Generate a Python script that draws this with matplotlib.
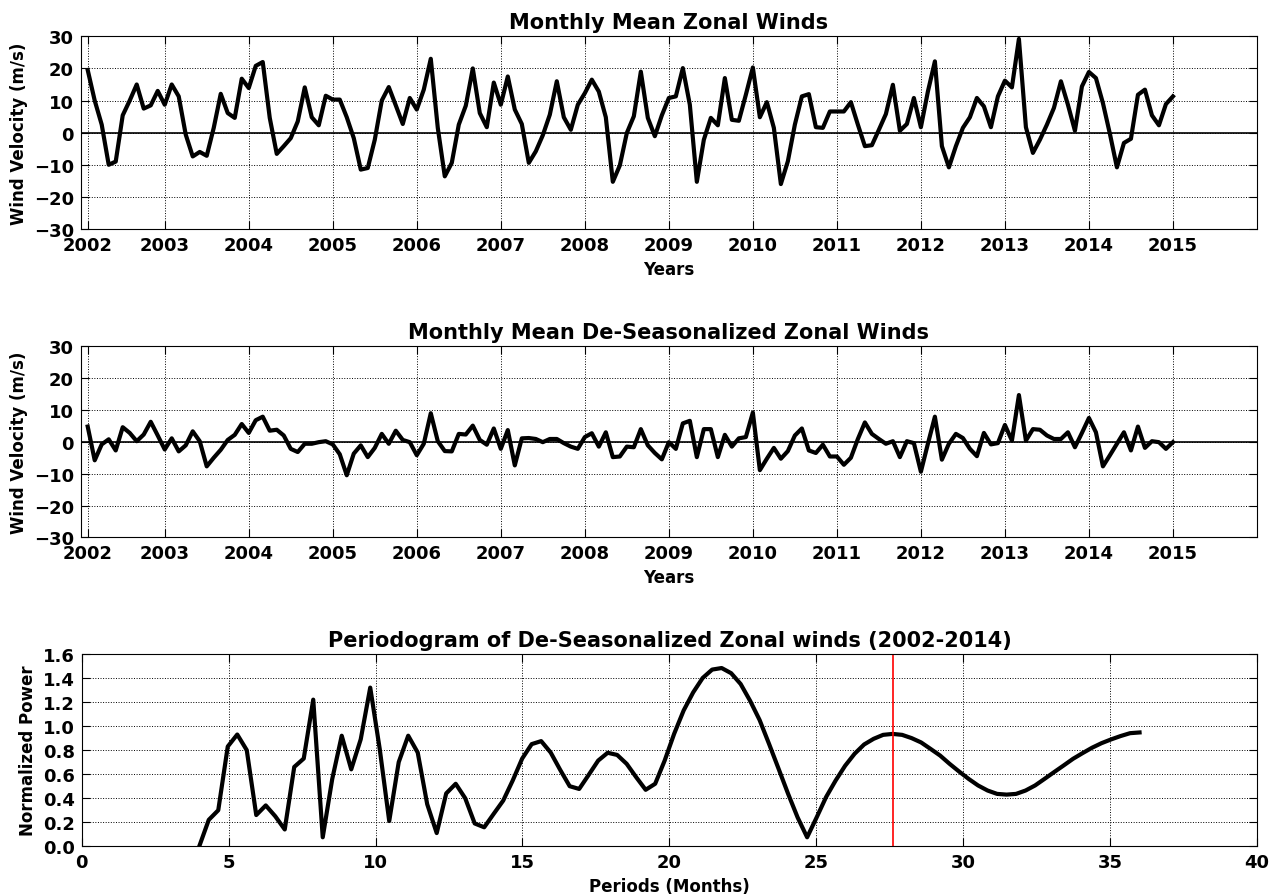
import numpy as np
import matplotlib
matplotlib.use("Agg")
import matplotlib.pyplot as plt

# Monthly mean zonal wind (m/s), Jan 2002 - Dec 2014
zonal_wind = [
    19.5, 10.0, 2.5, -10.0, -9.0, 5.4, 10.0, 15.0, 7.5, 8.5, 13.0, 8.7,
    15.0, 11.3, -0.6, -7.4, -6.0, -7.2, 1.5, 12.1, 6.1, 4.6, 16.8, 13.9,
    20.8, 22.0, 4.6, -6.6, -4.2, -1.7, 3.5, 14.1, 4.8, 2.3, 11.5, 10.3,
    10.3, 4.8, -1.7, -11.5, -11.0, -2.2, 10.0, 14.2, 8.5, 2.7, 10.8, 7.2,
    13.4, 23.0, 1.5, -13.6, -9.4, 2.5, 8.4, 20.0, 6.1, 1.7, 15.6, 8.7,
    17.5, 7.2, 2.7, -9.4, -5.8, -0.8, 5.6, 16.0, 4.8, 0.9, 8.7, 12.3,
    16.5, 12.8, 4.8, -15.3, -10.2, -0.1, 5.1, 19.0, 4.6, -1.1, 5.4, 10.8,
    11.3, 20.1, 8.7, -15.3, -2.2, 4.6, 2.3, 17.0, 4.0, 3.7, 11.8, 20.3,
    4.8, 9.5, 1.5, -16.0, -8.9, 2.5, 11.3, 12.0, 1.7, 1.5, 6.6, 6.6,
    6.6, 9.5, 2.5, -4.2, -3.9, 0.9, 5.8, 14.9, 0.6, 2.7, 10.8, 1.7,
    12.8, 22.2, -4.2, -10.8, -4.2, 1.5, 4.8, 10.8, 8.2, 1.7, 11.3, 16.2,
    14.1, 29.2, 1.7, -6.3, -2.2, 2.5, 7.7, 16.0, 8.7, 0.6, 14.4, 18.9,
    17.0, 9.2, -0.4, -10.8, -3.2, -1.9, 11.8, 13.4, 5.4, 2.3, 8.9, 11.3,
]

# Same series with the mean annual cycle removed (m/s)
deseasonalized = [
    4.8, -5.8, -0.8, 0.8, -2.7, 4.6, 2.8, 0.2, 2.3, 6.3, 2.0, -2.4,
    1.1, -3.0, -1.1, 3.3, 0.2, -7.7, -5.0, -2.5, 0.6, 2.2, 5.6, 2.8,
    6.8, 7.9, 3.5, 3.8, 2.0, -2.2, -3.2, -0.6, -0.6, -0.1, 0.2, -0.8,
    -3.9, -10.5, -3.7, -1.1, -4.8, -1.9, 2.5, -0.6, 3.5, 0.6, -0.1, -4.2,
    -0.6, 9.0, 0.2, -2.9, -3.0, 2.5, 2.3, 5.1, 0.6, -0.9, 4.2, -2.2,
    3.7, -7.4, 1.1, 1.2, 0.9, -0.1, 0.9, 0.9, -0.4, -1.5, -2.2, 1.5,
    2.7, -1.5, 3.0, -4.8, -4.6, -1.5, -1.7, 4.0, -1.1, -3.5, -5.5, -0.1,
    -2.2, 5.8, 6.6, -4.8, 4.0, 4.0, -4.8, 2.2, -1.5, 1.1, 1.5, 9.2,
    -8.9, -5.3, -1.9, -5.3, -2.9, 2.0, 4.2, -2.7, -3.5, -0.9, -4.6, -4.6,
    -7.2, -5.0, 0.9, 6.1, 2.5, 0.9, -0.6, 0.2, -4.8, 0.2, -0.4, -9.4,
    -0.6, 7.9, -5.6, -0.6, 2.5, 1.2, -2.2, -4.5, 2.8, -0.8, -0.4, 5.3,
    0.4, 14.7, 0.4, 4.0, 3.8, 2.0, 0.9, 0.9, 3.0, -1.7, 2.8, 7.5,
    3.0, -7.7, -4.2, -0.6, 3.0, -2.7, 4.8, -1.9, 0.2, -0.1, -2.2, -0.1,
]

# Periodogram: periods in months (4 to 36, 100 steps) and normalized power
periods = np.linspace(4, 36, 100)
power = [
    0.00, 0.22, 0.30, 0.83, 0.93, 0.80, 0.26, 0.34, 0.25, 0.14,
    0.66, 0.73, 1.22, 0.075, 0.56, 0.92, 0.64, 0.89, 1.32, 0.81,
    0.21, 0.70, 0.92, 0.78, 0.35, 0.11, 0.44, 0.52, 0.40, 0.19,
    0.158, 0.27, 0.38, 0.547, 0.73, 0.85, 0.875, 0.78, 0.636, 0.50,
    0.477, 0.594, 0.713, 0.778, 0.76, 0.686, 0.575, 0.47, 0.52, 0.713,
    0.936, 1.13, 1.28, 1.40, 1.47, 1.483, 1.44, 1.35, 1.21, 1.05,
    0.85, 0.644, 0.436, 0.24, 0.075, 0.24, 0.41, 0.547, 0.67, 0.77,
    0.847, 0.894, 0.927, 0.935, 0.927, 0.90, 0.864, 0.81, 0.755, 0.686,
    0.622, 0.561, 0.506, 0.464, 0.436, 0.43, 0.436, 0.464, 0.506, 0.561,
    0.617, 0.672, 0.728, 0.775, 0.82, 0.858, 0.889, 0.917, 0.941, 0.947,
]
peak_period = periods[73]

year_labels = [str(y) for y in range(2002, 2016)]
n_months = len(zonal_wind)
time = 2002 + np.arange(1, n_months + 1) / 12.0
year_ticks = [time[0]] + list(range(2003, 2016))

plt.rcParams.update({
    "font.family": "DejaVu Sans",
    "font.weight": "bold",
    "axes.labelweight": "bold",
    "axes.titleweight": "bold",
    "xtick.direction": "in",
    "ytick.direction": "in",
    "xtick.top": True,
    "ytick.right": True,
    "xtick.major.size": 6,
    "ytick.major.size": 6,
    "xtick.major.pad": 5,
    "ytick.major.pad": 5,
    "xtick.labelsize": 13,
    "ytick.labelsize": 13,
})

fig = plt.figure(figsize=(12.73, 8.95), dpi=100)
ax1 = fig.add_axes([0.0634, 0.743, 0.924, 0.2153])
ax2 = fig.add_axes([0.0634, 0.3985, 0.924, 0.2134])
ax3 = fig.add_axes([0.0642, 0.0533, 0.9233, 0.2149])

grid_kw = dict(color="black", linestyle=":", linewidth=0.7)

for ax, series, title in [
    (ax1, zonal_wind, "Monthly Mean Zonal Winds"),
    (ax2, deseasonalized, "Monthly Mean De-Seasonalized Zonal Winds"),
]:
    ax.plot(time, series, color="black", linewidth=3)
    ax.axhline(0, color="black", linewidth=1.2)
    ax.set_xlim(2002, 2016)
    ax.set_ylim(-30, 30)
    ax.set_yticks(np.arange(-30, 31, 10))
    ax.set_xticks(year_ticks)
    ax.set_xticklabels(year_labels)
    ax.grid(True, **grid_kw)
    ax.set_title(title, fontsize=15, fontweight="bold")
    ax.set_xlabel("Years", fontsize=12, fontweight="bold")
    ax.set_ylabel("Wind Velocity (m/s)", fontsize=12, fontweight="bold")

ax3.plot(periods, power, color="black", linewidth=3)
ax3.axvline(peak_period, color="red", linewidth=1.2)
ax3.set_xlim(0, 40)
ax3.set_ylim(0, 1.6)
ax3.set_yticks(np.arange(0, 1.61, 0.2))
ax3.yaxis.set_major_formatter(matplotlib.ticker.FormatStrFormatter("%.1f"))
ax3.grid(True, **grid_kw)
ax3.set_title("Periodogram of De-Seasonalized Zonal winds (2002-2014)",
              fontsize=15, fontweight="bold")
ax3.set_xlabel("Periods (Months)", fontsize=12, fontweight="bold")
ax3.set_ylabel("Normalized Power", fontsize=12, fontweight="bold")

for ax in (ax1, ax2, ax3):
    for lab in ax.get_xticklabels() + ax.get_yticklabels():
        lab.set_fontweight("bold")

fig.savefig("out.png", dpi=100)
